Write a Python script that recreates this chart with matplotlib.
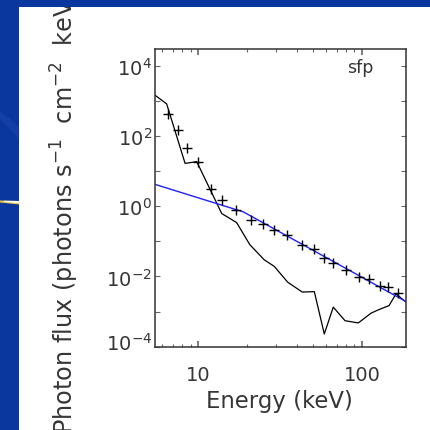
import numpy as np
import matplotlib
matplotlib.use("Agg")
import matplotlib.pyplot as plt
from matplotlib.patches import Rectangle, Polygon
from matplotlib.ticker import FixedLocator, LogLocator, FuncFormatter, NullFormatter
from matplotlib.transforms import ScaledTranslation

# ---- spectrum data ----
model_energy = [5.49, 6.44, 8.34, 9.82, 13.95, 17.2, 20.7, 25.3, 29.2, 35.2, 43.2,
                51.2, 58.9, 66.8, 78.8, 94.9, 113.5, 125.7, 146.2, 161.2, 185.5]
model_flux = [1430, 820, 16.6, 18.6, 0.62, 0.342, 0.0805, 0.030, 0.0193, 6.9e-3, 3.6e-3,
              3.7e-3, 2.3e-4, 1.34e-3, 5.5e-4, 4.75e-4, 9.0e-4, 1.12e-3, 1.48e-3, 3.2e-3, 1.86e-3]

fit_energy = [5.49, 18.9, 185.5]
fit_flux = [4.17, 0.69, 1.93e-3]

obs_energy = [6.53, 7.52, 8.53, 10.04, 11.95, 13.95, 17.1, 21.0, 25.0, 29.2, 34.8,
              43.2, 51.2, 58.9, 66.8, 79.8, 95.9, 111.0, 128.8, 144.5, 165.0]
obs_flux = [417, 148, 44.6, 18.6, 3.06, 1.48, 0.805, 0.417, 0.321, 0.206, 0.155,
            0.0805, 0.059, 0.0336, 0.0246, 0.0155, 9.6e-3, 8.2e-3, 5.3e-3, 4.98e-3, 3.42e-3]

x_major = [10, 100]
y_decades = list(range(-4, 5))

W, H = 430, 431
SLIDE_BLUE = "#0a379e"
TEXT = "#363636"

plt.rcParams["font.family"] = ["DejaVu Sans"]
plt.rcParams["mathtext.fontset"] = "dejavusans"

fig = plt.figure(figsize=(W / 100, H / 100), dpi=100, facecolor=SLIDE_BLUE)


def fx(px):
    return px / W


def fy(py):
    return 1 - py / H


# white slide panel
fig.add_artist(Rectangle((fx(19.3), 0), 1 - fx(19.3), fy(7.7), transform=fig.transFigure,
                         facecolor="white", edgecolor="none", zorder=-5))
# decorative streaks on the blue margin
fig.add_artist(Polygon([(fx(0), fy(112)), (fx(19.3), fy(128)), (fx(19.3), fy(140)), (fx(0), fy(120))],
                       closed=True, transform=fig.transFigure, facecolor="#3a5fb8",
                       edgecolor="none", alpha=0.2, zorder=-4))
fig.add_artist(Polygon([(fx(0), fy(201.5)), (fx(19.3), fy(202)), (fx(19.3), fy(205.5)), (fx(0), fy(203.5))],
                       closed=True, transform=fig.transFigure, facecolor="#e9c64a",
                       edgecolor="none", zorder=-4))
fig.add_artist(Polygon([(fx(4), fy(201.8)), (fx(19.3), fy(202)), (fx(19.3), fy(204.2)), (fx(4), fy(202.8))],
                       closed=True, transform=fig.transFigure, facecolor="#ffffff",
                       edgecolor="none", zorder=-4))
# top blue band (drawn above the long axis title)
fig.add_artist(Rectangle((0, fy(7.7)), 1, 1 - fy(7.7), transform=fig.transFigure,
                         facecolor=SLIDE_BLUE, edgecolor="none", zorder=10))

ax = fig.add_axes([fx(155.3), fy(348.3), fx(406) - fx(155.3), fy(50) - fy(348.3)])
ax.set_facecolor("white")
ax.set_xscale("log")
ax.set_yscale("log")
ax.set_xlim(5.49, 185.5)
ax.set_ylim(10 ** -4.017, 10 ** 4.477)

ax.plot(model_energy, model_flux, color="black", lw=0.9)
ax.plot(fit_energy, fit_flux, color="#1f1fff", lw=1.0)
ax.plot(obs_energy, obs_flux, ls="none", marker="+", ms=7.5, mew=1.0, color="black")

for sp in ax.spines.values():
    sp.set_color("#333333")
    sp.set_linewidth(1.1)

ax.xaxis.set_major_locator(FixedLocator(x_major))
ax.xaxis.set_major_formatter(FuncFormatter(lambda v, p: f"{v:g}"))
ax.xaxis.set_minor_locator(LogLocator(base=10, subs=np.arange(2, 10), numticks=20))
ax.xaxis.set_minor_formatter(NullFormatter())

ax.yaxis.set_major_locator(FixedLocator([10.0 ** k for k in y_decades]))
ax.yaxis.set_major_formatter(FuncFormatter(
    lambda v, p: (r"$10^{%d}$" % round(np.log10(v))) if round(np.log10(v)) % 2 == 0 else ""))
ax.yaxis.set_minor_locator(FixedLocator([]))

ax.tick_params(which="both", direction="in", top=True, right=True, color="#666666",
               labelcolor=TEXT)
ax.tick_params(axis="x", which="major", length=4.3, width=1.2, labelsize=14, pad=12.5)
ax.tick_params(axis="x", which="minor", length=2.3, width=0.8)
ax.tick_params(axis="y", which="major", length=3.6, width=0.8, labelsize=14, pad=2.5)

# lift the lowest y label a little
yticks = ax.yaxis.get_major_ticks()
lab = yticks[0].label1
lab.set_transform(lab.get_transform() + ScaledTranslation(0, 6 / 100, fig.dpi_scale_trans))

ax.text((346.7 - 155.3) / (406 - 155.3), (348.3 - 72.7) / (348.3 - 50), "sfp",
        transform=ax.transAxes, ha="left", va="baseline", fontsize=12.5, color=TEXT)

fig.text(fx(279), fy(408.3), "Energy (keV)", ha="center", va="baseline",
         fontsize=16.4, color=TEXT)
fig.text(fx(73.5), fy(434),
         r"Photon flux (photons s$^{-1}$  cm$^{-2}$  keV$^{-1}$)",
         rotation=90, rotation_mode="anchor", ha="left", va="baseline",
         fontsize=17.3, color=TEXT)

fig.savefig("out.png", dpi=100, facecolor=fig.get_facecolor())
